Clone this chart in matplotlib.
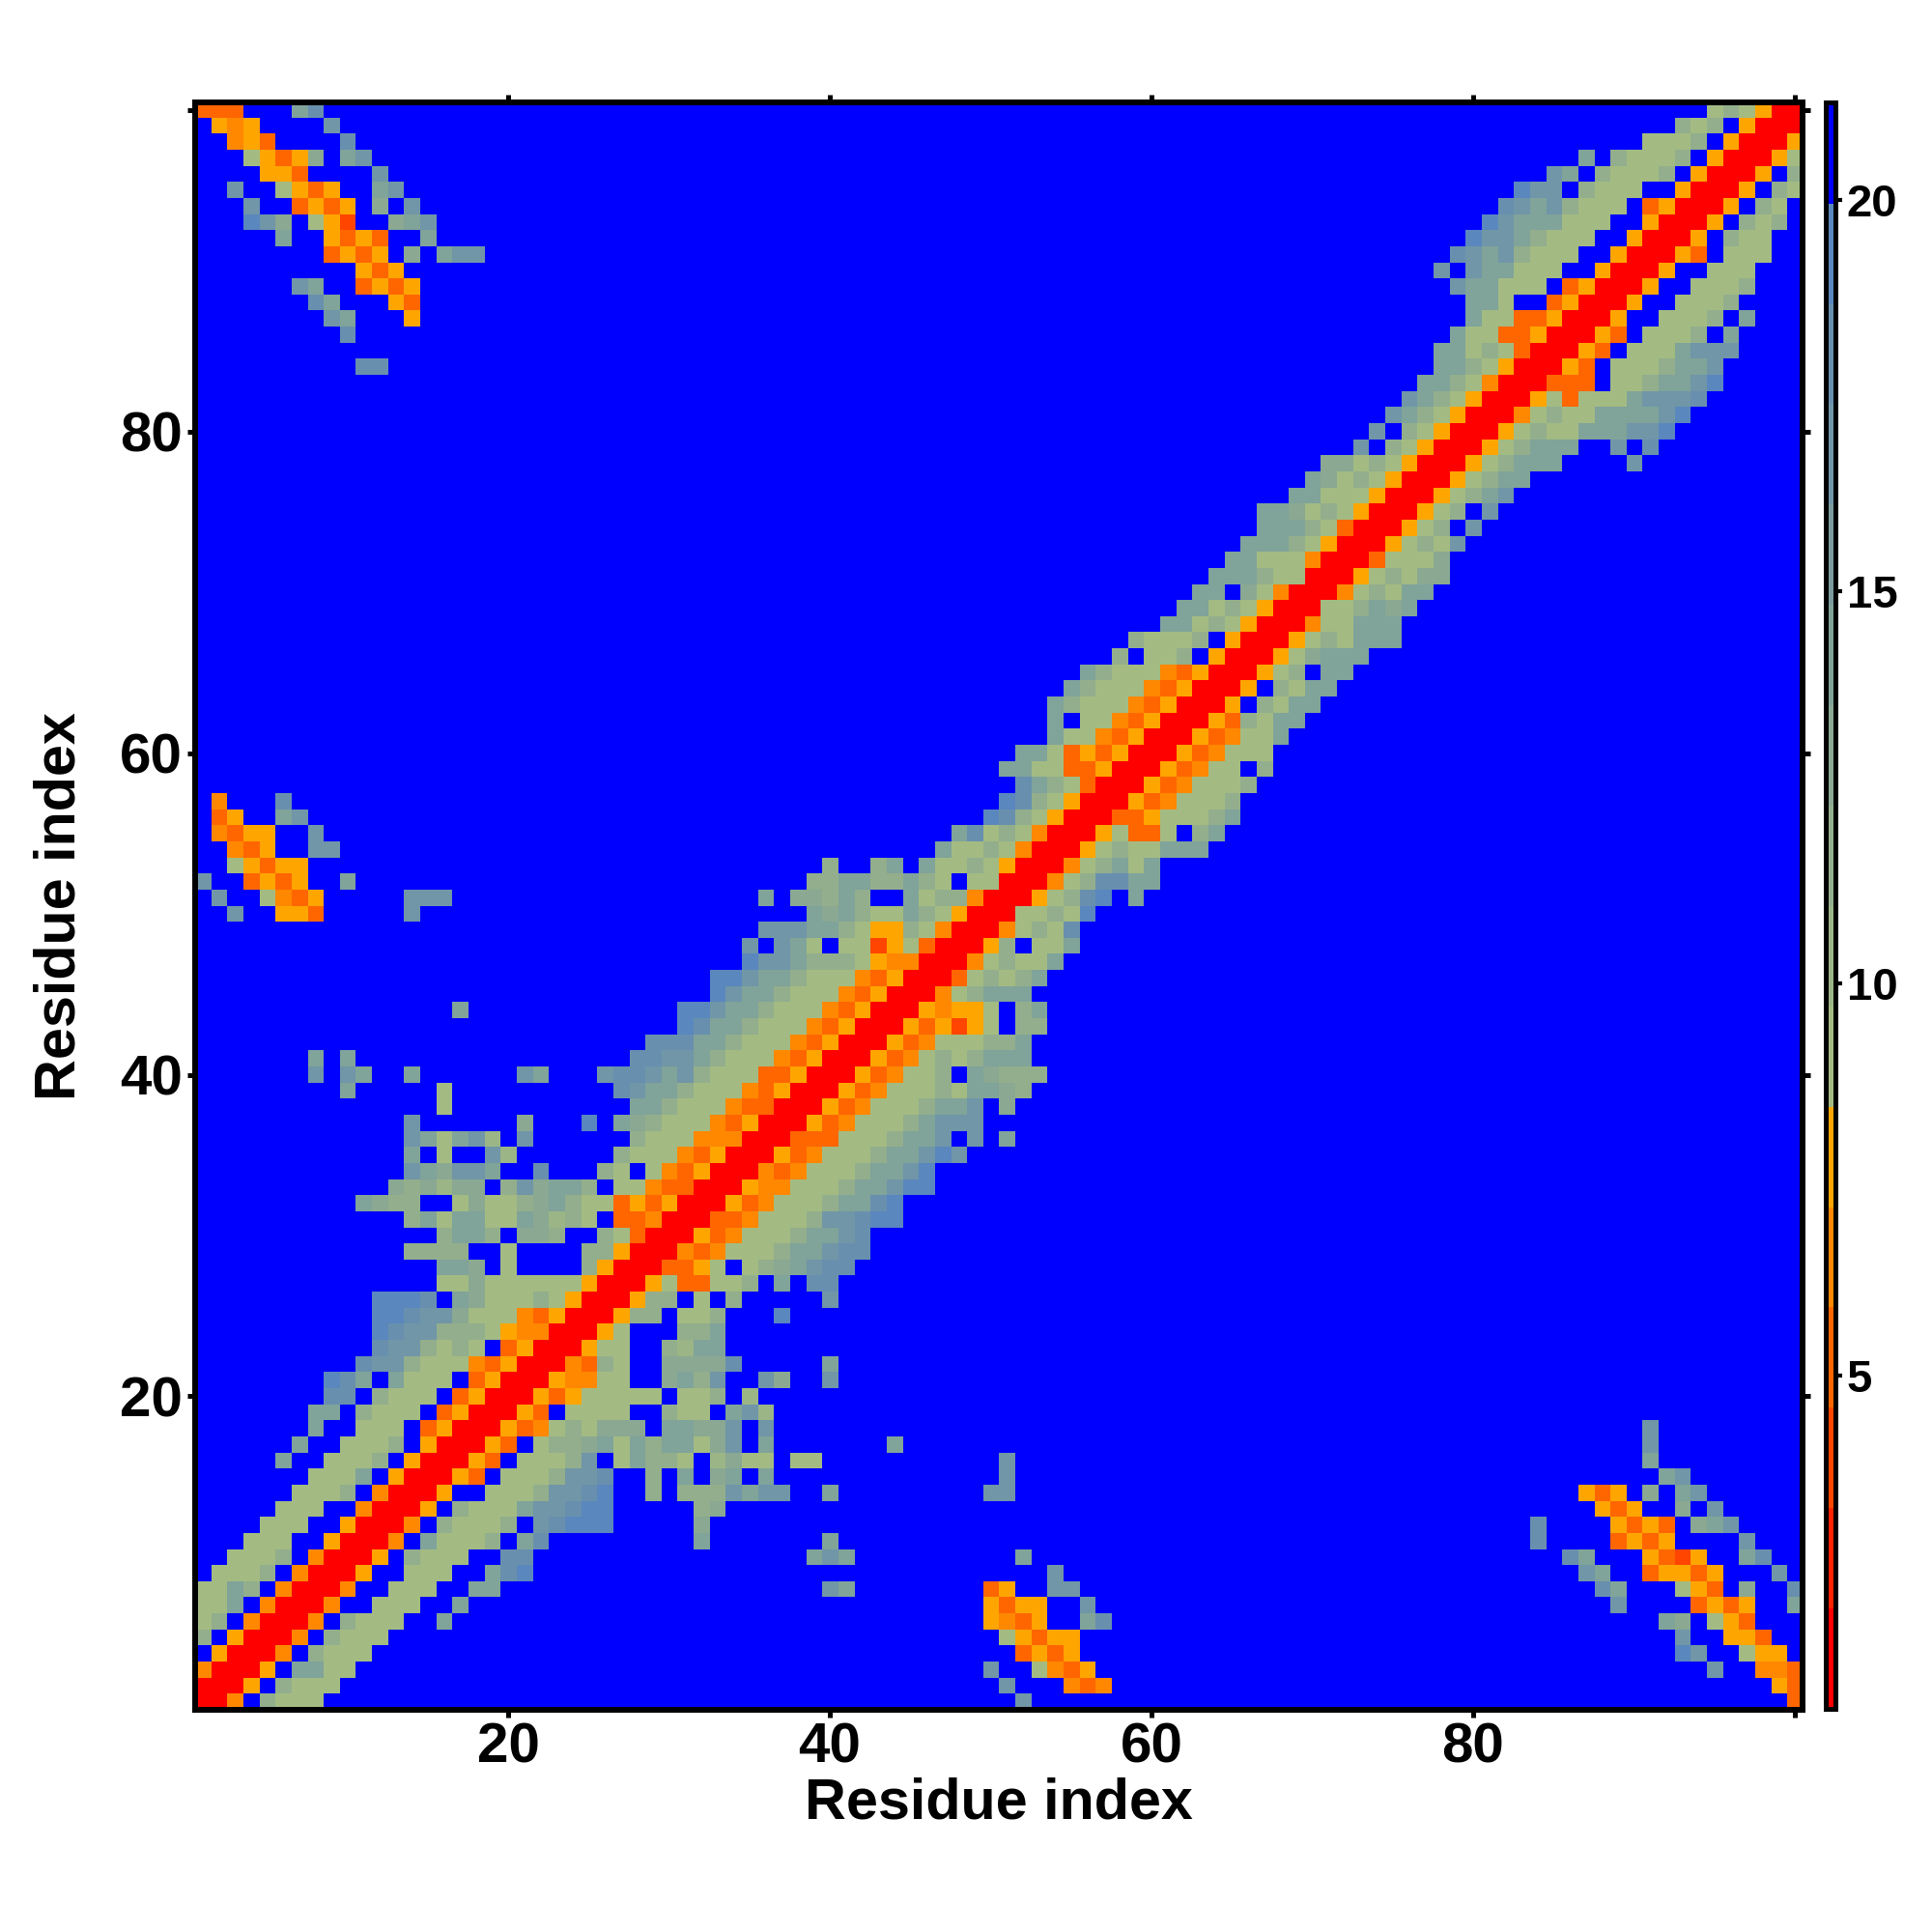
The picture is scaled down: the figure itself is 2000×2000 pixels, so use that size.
# -*- coding: utf-8 -*-
"""Distance map between residues, symmetric around the diagonal."""

import numpy as np
import matplotlib
matplotlib.use('Agg')
import matplotlib.pyplot as plt
from matplotlib.colors import BoundaryNorm, ListedColormap

plt.rcParams['font.family'] = ['Liberation Sans', 'DejaVu Sans']
plt.rcParams['font.weight'] = 'bold'

# distance read for each colour code
distance = {'r': 1.4, '2': 3.9, '3': 5.2, '4': 6.5, '5': 7.8,
            'a': 9.1, 'b': 10.3, 'c': 11.6, 'd': 12.9, 'e': 14.2,
            'f': 16.8, 'g': 18.0, 'h': 19.3}
no_contact = 20.6

band_edges = [0.75, 2.03, 3.31, 4.59, 5.87, 7.15, 8.43, 9.71, 10.99, 12.27,
              13.55, 14.83, 16.11, 17.39, 18.67, 19.95, 21.24]
band_colors = ['#ff0000', '#ff2200', '#ff4500', '#ff6600', '#ff8800', '#ffa500',
               '#a3bb82', '#9bb587', '#93ae8c', '#8aa892', '#80a39a', '#7a9c9e',
               '#7096a7', '#6890ae', '#5a87bd', '#0000ff']

# row i, cells from the diagonal (i, i) to the right, '.' is no contact
near_rows = [
    "rr4.caaa", "rr5.caaa", "rr5.eeaa", "rr4.caaa", "rr4.caaa",
    "rr4.caaa..e", "rr4..aaa..e", "rr4..aaa..ee", "rr5..aaa..egh", "rr5.caaa..gg",
    "rr4.eaaac.eg.........e", "rr4.caaac.fghhh.....d", "rr5.caaaeffghh.....cd",
    "rr5..aaacffgh..c.cccfeff..e", "rr53.aaacffg..c.e.de.e",
    "rr53.aaacf.aecca.bdaa.aa", "rr53.accdeaeceeadf.e", "rr534acaddd.eeddf.f",
    "rr53.aaaa..caa.efb", "rr535aaaaa.aac.b",
    "rr544aa..decf..fd..f", "rr43ca..ddddg.....e", "rr5aa..cbee", "rr5a...cce",
    "rr5cc.aac...h", "rr5cc.a.c.....f", "rr5a33aac.e.gg", "rr335a.acdefgg",
    "rr434aaaceefgg", "rr534aaaceefg",
    "rr334aaacffghh", "rr534aaaceegh", "rr544aaaceefhh", "rr434aaaceefh",
    "rr534aaaceefhf", "rr333aaaceef.f.e", "rr534aaacefff", "rr534aaaceef.d",
    "rr534aaacaeedc", "rr534aac.edccc",
    "rr534acaceee", "rr534aaacce", "rr53525a.cc", "rr5455a.ce", "rr4aceee",
    "rr3acace", "rr4acaae", "rr5c.aae", "rr4acag", "rraacah",
    "rr5acgh.e", "rr4acggee", "rr4aceae", "rr5acaaeee", "rr5a33a.ce",
    "rr335aaace", "rr534aaac", "rr534aaac", "rr534aa.c", "rr534aaa",
    "rr534aae", "rr53caee", "rr5.caee", "rr5.caee", "rr5ac.ee",
    "rr5adeee", "rr5acaeee", "rr4aaeee", "rraacede", "rr4acaee",
    "rr5acadd", "rr3aaad", "rr5acaf", "rr5ac.f", "rr5ac.f",
    "rr5acef", "rr5acee", "rr5aceee", "rr5aceee..f.g", "rr5acaaeeeffh",
    "rr4acaaeeeefh", "rr5a3aaaefffg", "rr333.aaceefh", "rr53.aaaceef", "rr53.aaaefff",
    "rr53.aaac.e", "rr5..aaac.e", "rr5..aaac", "rr5..aaac", "rr5..aaa",
    "rr53.aaa", "rr5.caa", "rr5.cac", "rr5.ca", "rr5.ca",
    "rr5.c", "rr5a", "rr5", "rr", "r",
]

# contacts away from the diagonal: (row, first column, codes)
far_cells = [
    (1, 52, 'f'), (1, 100, '3'),
    (2, 51, 'f'), (2, 55, '434'), (2, 99, '53'),
    (3, 50, 'f'), (3, 53, 'a435'), (3, 95, 'f'), (3, 98, '443'),
    (4, 52, '3535'), (4, 93, 'hf'), (4, 97, 'a55'),
    (5, 51, 'a5355'), (5, 93, 'f'), (5, 96, '553'),
    (6, 50, '5435'), (6, 56, 'eg'), (6, 92, 'ed'), (6, 95, 'a53'),
    (7, 50, '5355'), (7, 56, 'f'), (7, 89, 'f'), (7, 94, '3535'), (7, 100, 'e'),
    (8, 40, 'fe'), (8, 50, '35'), (8, 54, 'ff'), (8, 88, 'ge'), (8, 93, 'a53'),
    (8, 97, 'd'), (8, 100, 'g'),
    (9, 54, 'f'), (9, 87, 'fe'), (9, 91, '35535'), (9, 99, 'f'),
    (10, 39, 'efe'), (10, 52, 'e'), (10, 86, 'ge'), (10, 91, '5325'), (10, 97, 'eg'),
    (11, 40, 'e'), (11, 84, 'g'), (11, 89, '3535'), (11, 97, 'f'),
    (12, 84, 'g'), (12, 89, '5353'), (12, 94, 'def'),
    (13, 88, '535'), (13, 93, 'd'), (13, 95, 'f'),
    (14, 50, 'ff'), (14, 87, '535'), (14, 91, 'd'), (14, 93, 'ef'),
    (15, 51, 'f'), (15, 92, 'ef'),
    (16, 51, 'f'), (16, 91, 'e'),
    (17, 44, 'e'), (17, 91, 'f'),
    (18, 91, 'f'),
    (78, 90, 'f'),
]

axis_ticks = [20, 40, 60, 80, 100]
axis_labels = ['20', '40', '60', '80', '']
bar_ticks = [5, 10, 15, 20]

matrix = np.full((100, 100), no_contact)
for i, row in enumerate(near_rows):
    for j, code in enumerate(row):
        if code != '.':
            matrix[i, i + j] = matrix[i + j, i] = distance[code]
for row, col, codes in far_cells:
    for j, code in enumerate(codes):
        matrix[row - 1, col - 1 + j] = matrix[col - 1 + j, row - 1] = distance[code]

cmap = ListedColormap(band_colors)
norm = BoundaryNorm(band_edges, cmap.N)

fig = plt.figure(figsize=(20, 20), dpi=100)
ax = fig.add_axes([201.5 / 2000, 230 / 2000, 1664.5 / 2000, 1664.3 / 2000])
im = ax.imshow(matrix, origin='lower', extent=(0.5, 100.5, 0.5, 100.5),
               cmap=cmap, norm=norm, interpolation='nearest', aspect='auto')

ax.set_xticks(axis_ticks)
ax.set_xticklabels(axis_labels)
ax.set_yticks(axis_ticks)
ax.set_yticklabels(axis_labels)
ax.tick_params(axis='both', which='major', direction='out', length=6, width=3.6,
               labelsize=42, pad=3, top=True, right=True)
for spine in ax.spines.values():
    spine.set_linewidth(4.3)

ax.set_xlabel('Residue index', fontsize=42.7, fontweight='bold')
ax.xaxis.set_label_coords(0.5, -0.0415)
ax.set_ylabel('Residue index', fontsize=42.7, fontweight='bold')
ax.yaxis.set_label_coords(-0.0675, 0.5)

cax = fig.add_axes([1889.5 / 2000, 231 / 2000, 11 / 2000, 1663 / 2000])
bar = fig.colorbar(im, cax=cax, ticks=bar_ticks, spacing='proportional', drawedges=False)
bar.outline.set_linewidth(3.6)
bar.ax.tick_params(length=5, width=3, labelsize=34, pad=3)
bar.minorticks_off()

fig.savefig('out.png', dpi=100)
